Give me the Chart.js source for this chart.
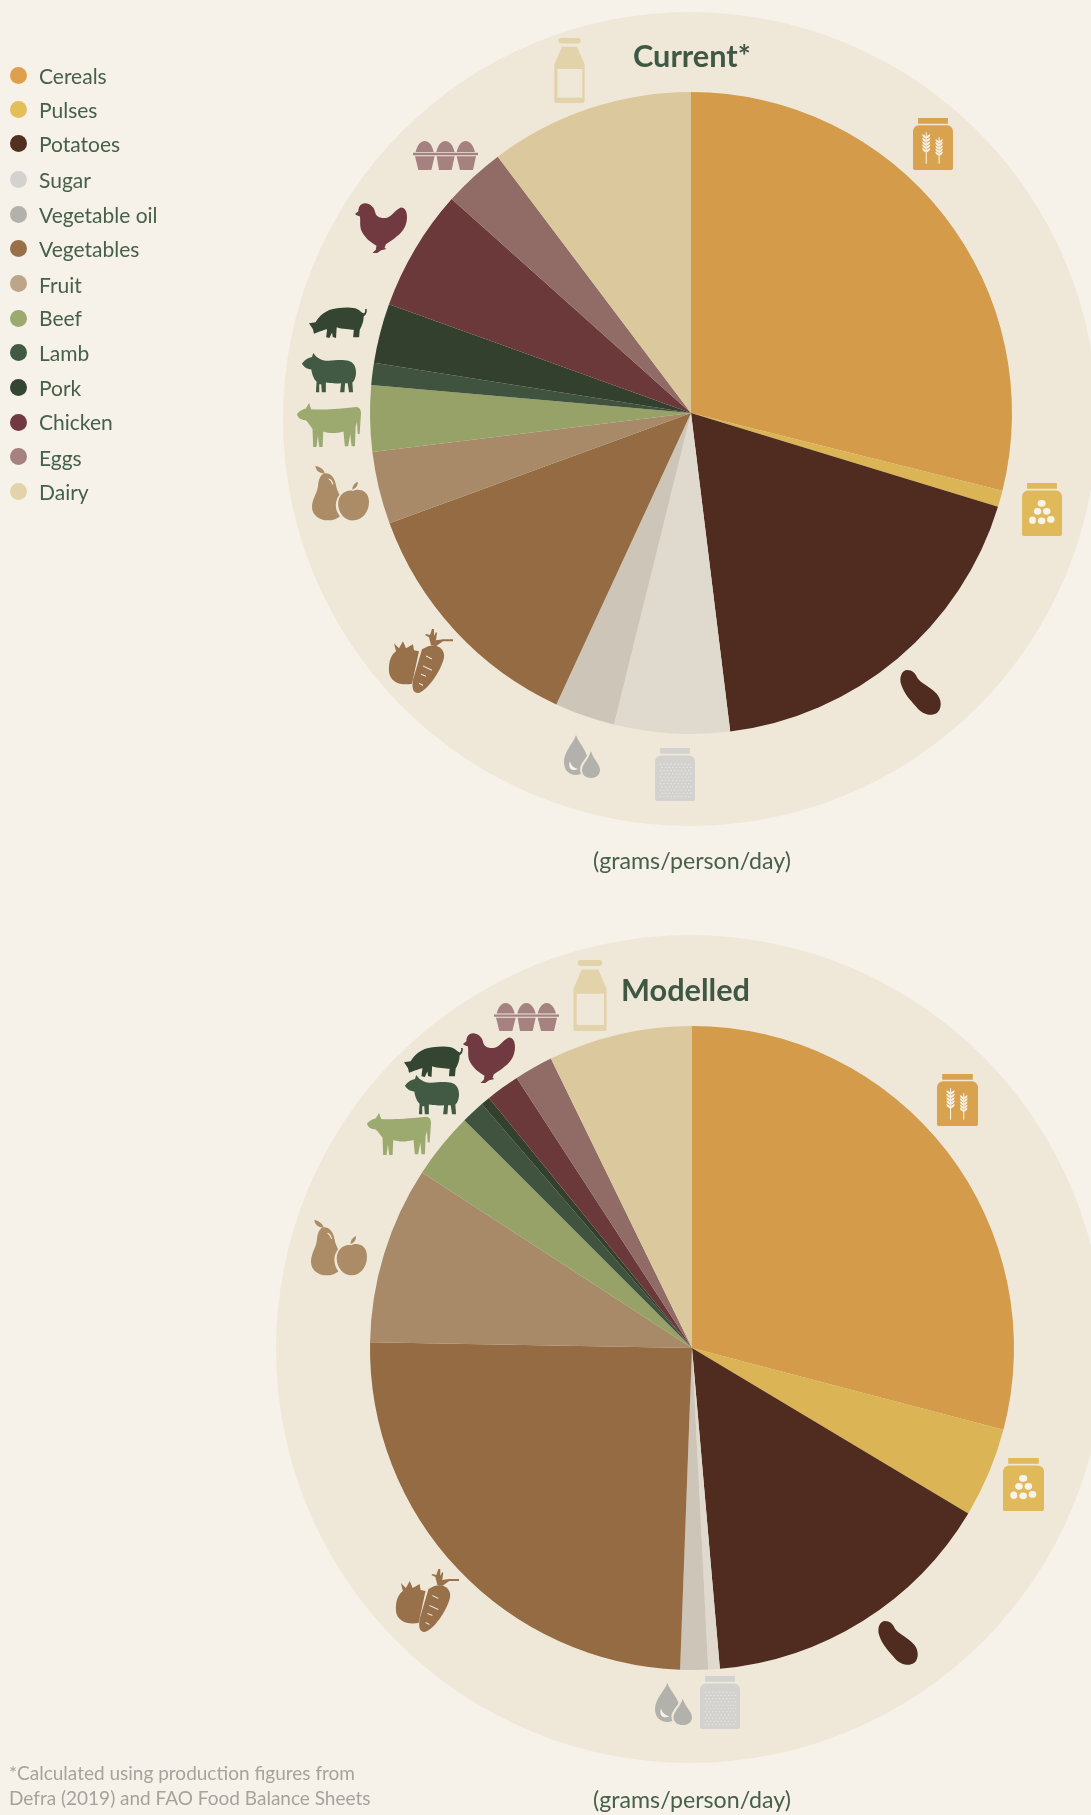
<!DOCTYPE html>
<html>
<head>
<meta charset="utf-8">
<title>Current and modelled food supply</title>
<script src="https://cdn.jsdelivr.net/npm/chart.js@4"></script>
<style>
    html, body { margin: 0; padding: 0; background: #f6f2ea; }
    #page { position: relative; width: 1091px; height: 1815px; overflow: hidden; font-family: "Lato", sans-serif; color: #46604b; }
    canvas { position: absolute; left: 0; }
    .txt { position: absolute; white-space: nowrap; }
    .chartTitle { font-weight: 700; font-size: 30.7px; color: #3f5844; line-height: 34px; }
    .unit { font-size: 23.2px; width: 300px; text-align: center; line-height: 26px; }
    .dot { position: absolute; left: 10px; width: 17px; height: 17px; border-radius: 50%; }
    .legendText { font-size: 21px; left: 39px; line-height: 24px; }
    .note { left: 9px; font-size: 19px; color: #a4a39c; line-height: 24px; }
</style>
</head>
<body>
<div id="page">
    <canvas id="currentChart" width="1091" height="880" style="top:0"></canvas>
    <canvas id="modelledChart" width="1091" height="935" style="top:880px"></canvas>
    <div class="txt chartTitle" style="left:633px;top:39px">Current*</div>
    <div class="txt chartTitle" style="left:621px;top:973px">Modelled</div>
    <div class="txt unit" style="left:542px;top:847px">(grams/person/day)</div>
    <div class="txt unit" style="left:542px;top:1786px">(grams/person/day)</div>
    <div class="txt note" style="top:1761px">*Calculated using production figures from</div>
    <div class="txt note" style="top:1786px">Defra (2019) and FAO Food Balance Sheets</div>
</div>
<script>
// share of the daily total (percent)
const categories = ["Cereals", "Pulses", "Potatoes", "Sugar", "Vegetable oil", "Vegetables", "Fruit", "Beef", "Lamb", "Pork", "Chicken", "Eggs", "Dairy"];
const currentValues = [28.89, 0.83, 18.33, 5.81, 3.03, 12.53, 3.64, 3.33, 1.11, 3.0, 6.11, 3.11, 10.28];
const modelledValues = [29.08, 4.5, 15.03, 0.58, 1.39, 24.69, 8.89, 3.33, 1.17, 0.47, 1.69, 1.94, 7.22];

const sliceColors = ["#d39b4a", "#dab455", "#4f2b20", "#e0dace", "#ccc5b8", "#946b42", "#a88a68", "#97a268", "#3f533e", "#33402d", "#6c393a", "#916c67", "#dbc99d"];
const legendColors = ["#dfa04d", "#e3bf5a", "#51301f", "#d4d2ce", "#b3b1ac", "#98714a", "#bca589", "#9caa6f", "#425a44", "#344531", "#703a40", "#a58180", "#e2d3ab"];
const legendRows = [75, 109, 143, 179, 214, 248, 283, 318, 352, 387, 422, 456, 491];
const legendTextRows = [77, 111, 145, 181, 216, 250, 286, 319, 354, 389, 423, 459, 493];

const ringColor = "#efe8d8";
const lightColor = "#f8f4ec";

// legend
const page = document.getElementById("page");
categories.forEach((name, i) => {
    let dot = document.createElement("div");
    dot.className = "dot";
    dot.style.top = (legendRows[i] - 8.5) + "px";
    dot.style.background = legendColors[i];
    page.appendChild(dot);
    let label = document.createElement("div");
    label.className = "txt legendText";
    label.style.top = (legendTextRows[i] - 13) + "px";
    label.textContent = name;
    page.appendChild(label);
});

// small helpers for the repeated bits inside the jars
function wheat(x, top, bottom, n, size) {
    let d = `M${x - 1.5} ${top}h3V${bottom}h-3Z`;
    for (let i = 0; i < n; i++) {
        let y = top + 8 + i * size * 0.95;
        d += `M${x - 1} ${y + size}C${x - size} ${y + size * 0.7} ${x - size * 1.1} ${y} ${x - size * 1.1} ${y - 2}C${x - 3} ${y} ${x - 1} ${y + size * 0.4} ${x - 1} ${y + size}Z`;
        d += `M${x + 1} ${y + size}C${x + size} ${y + size * 0.7} ${x + size * 1.1} ${y} ${x + size * 1.1} ${y - 2}C${x + 3} ${y} ${x + 1} ${y + size * 0.4} ${x + 1} ${y + size}Z`;
    }
    return d;
}
function bean(x, y, rx, ry) {
    return `M${x - rx} ${y}a${rx} ${ry} 0 1 0 ${rx * 2} 0a${rx} ${ry} 0 1 0 ${-rx * 2} 0Z`;
}
function sugarDots() {
    let d = "";
    for (let r = 0; r < 11; r++) {
        for (let c = 0; c < 9; c++) {
            d += bean(16 + c * 10.5 + (r % 2 ? 5 : 0), 48 + r * 9.6, 2, 2);
        }
    }
    return d;
}

const jarBody = "M15 0H103V17H15ZM18 22H100a18 18 0 0 1 18 18V152a5 5 0 0 1-5 5H5a5 5 0 0 1-5-5V40a18 18 0 0 1 18-18Z";

// icon outlines, each in its own little box [w, h, layers]
// a layer colour of null means the colour the icon was placed with
const icons = {
    jarCereal: [118, 157, [
        { d: jarBody },
        { d: wheat(39, 43, 138, 5, 11) + wheat(77, 58, 138, 5, 10), color: lightColor }
    ]],
    jarPulse: [118, 157, [
        { d: jarBody },
        { d: bean(58, 60, 12, 10) + bean(46, 84, 11, 10) + bean(73, 84, 11, 10) + bean(31, 110, 10, 11) + bean(58, 112, 11, 10) + bean(85, 108, 11, 10), color: lightColor }
    ]],
    jarSugar: [118, 157, [
        { d: jarBody },
        { d: sugarDots(), color: "#ece8de" }
    ]],
    milk: [92, 193, [
        { d: "M21 0H71a5 5 0 0 1 0 16H21a5 5 0 0 1 0-16ZM24 26H68L91 78V186a7 7 0 0 1-7 7H8a7 7 0 0 1-7-7V78Z" },
        { d: "M10 92H84V177H10Z", color: ringColor }
    ]],
    eggs: [195, 88, [
        { d: "M8 33C14 10 24 0 35 0S57 10 62 33ZM70 33C76 10 86 0 97 0S119 10 125 33ZM131 33C137 10 147 0 158 0S180 10 186 33Z" },
        { d: "M0 36H195V43H0ZM6 46H65L55 88H16ZM71 46H125L116 88H78ZM131 46H189L180 88H141Z" }
    ]],
    chicken: [155, 150, [
        { d: "M0 33L10 25C10 8 20 0 32 1C48 3 58 15 60 28C63 42 78 48 95 44C110 40 118 22 135 14C148 12 155 25 155 42C155 65 145 85 125 100C112 112 100 118 92 124L88 135L94 138L78 142L66 150L52 150L62 140L64 128C45 118 30 105 20 85C12 68 18 52 14 40C10 38 4 38 0 33Z" }
    ]],
    pig: [176, 95, [
        { d: "M0 50L20 47C30 28 50 8 85 4C105 1 125 0 140 4C150 6 160 18 166 20C170 18 172 12 170 6L175 6C177 16 172 26 166 28C166 45 160 58 154 70L152 93L134 93L136 70C125 68 100 68 84 62L82 95L72 92L70 78L62 95L52 93L55 68C45 70 35 74 25 78L15 82L12 68Z" }
    ]],
    sheep: [163, 122, [
        { d: "M0 32C8 20 20 14 30 12L34 0L42 10C52 18 60 24 80 24C100 22 125 20 140 24C155 28 163 42 163 58C163 75 158 85 152 90L154 120L142 120L138 92L130 92L128 120L115 120L118 92C100 94 85 92 72 90L72 120L60 120L58 95L52 95L52 120L42 120L44 88C34 78 30 62 28 50C18 50 5 44 0 32Z" }
    ]],
    cow: [190, 127, [
        { d: "M0 32C8 22 18 18 26 16L36 0L42 18C70 20 110 18 170 12C182 10 190 16 190 30L186 90L180 88L178 55L174 70L172 125L162 125L158 90L152 125L142 125L138 82C115 88 95 88 78 82L76 127L66 127L62 95L58 127L48 127L46 75C38 65 32 55 26 50C14 50 2 44 0 32Z" }
    ]],
    fruit: [170, 168, [
        { d: "M10 0C22 2 36 10 38 22C26 24 12 16 10 0ZM38 22C55 20 68 35 72 60C75 80 92 100 95 125C95 150 75 166 48 166C22 166 0 150 0 125C0 100 15 85 18 60C20 40 25 25 38 22Z" },
        { d: bean(123, 120, 52, 52), color: ringColor },
        { d: "M122 76C135 68 170 70 170 110C170 145 145 166 125 166C100 168 78 145 78 115C78 85 105 70 122 76ZM120 72C120 60 128 52 136 48C138 58 132 68 120 72Z" },
        { d: "M50 38C58 40 62 48 64 56L61 57C59 49 55 43 50 41Z", color: lightColor }
    ]],
    veg: [65, 63, [
        { d: "M1 42C0 30 5 24 8 22L6 14L11 19L15 12L18 19L25 15L26 21L31 22L24 54C12 56 2 52 1 42Z" },
        { d: "M40 17C50 14 57 20 56 28C53 42 38 62 30 63C24 63 24 56 25 50L34 20Z" },
        { d: "M43 16L41 8L37 6L38 5L42 6L44 0L46 0L46 7L48 3L49 4L48 11L55 10L65 10L65 12L55 12L48 17Z" },
        { d: "M38 26L44 29L44 30L38 27ZM35 36L44 40L44 41L35 37ZM33 44L38 46L38 47L33 45ZM31 53L35 55L35 56L31 54Z", color: lightColor }
    ]],
    oil: [36, 43, [
        { d: "M12 0C15 9 24 16 24 27C24 35 19 40 12 40C5 40 0 35 0 27C0 16 9 9 12 0Z" },
        { d: "M27 13C30 22 38 28 38 34C38 41 33 45 27 45C21 45 16 41 16 34C16 28 24 22 27 13Z", color: ringColor },
        { d: "M27 16C29 24 36 29 36 35C36 40 32 43 27 43C22 43 18 40 18 35C18 29 25 24 27 16Z" },
        { d: "M6 26C7 31 10 33 14 34C11 36 7 35 6 33C5 31 5 28 6 26Z", color: lightColor }
    ]],
    potato: [40, 45, [
        { d: "M7 0C12 0 15 3 17 8C20 13 30 17 36 24C41 30 41 39 36 43C30 47 21 44 16 37C10 30 4 24 1 14C-1 7 2 0 7 0Z" }
    ]]
};

// where the icons sit on the page: name, x, y, w, h, colour
const currentIcons = [
    ["milk", 554, 38, 31, 65, "#e2d3ab"],
    ["eggs", 413, 141, 65, 29, "#a58180"],
    ["chicken", 355, 203, 52, 50, "#703a40"],
    ["pig", 309, 307, 58, 31, "#344531"],
    ["sheep", 302, 353, 54, 40, "#425a44"],
    ["cow", 297, 403, 64, 44, "#9caa6f"],
    ["fruit", 312, 466, 57, 55, "#ab8c66"],
    ["veg", 388, 629, 65, 64, "#98714a"],
    ["oil", 564, 735, 36, 43, "#b3b1ac"],
    ["jarSugar", 655, 748, 40, 53, "#d4d2ce"],
    ["potato", 900, 670, 41, 45, "#4f2b20"],
    ["jarPulse", 1022, 483, 40, 53, "#e0b95a"],
    ["jarCereal", 913, 118, 40, 52, "#d9a24e"]
];
const modelledIcons = [
    ["milk", 573, 960, 34, 71, "#e2d3ab"],
    ["eggs", 494, 1003, 65, 28, "#a58180"],
    ["chicken", 463, 1033, 52, 50, "#703a40"],
    ["pig", 404, 1046, 59, 31, "#344531"],
    ["sheep", 405, 1075, 54, 40, "#425a44"],
    ["cow", 367, 1113, 64, 42, "#9caa6f"],
    ["fruit", 311, 1220, 56, 56, "#ab8c66"],
    ["veg", 395, 1569, 64, 63, "#98714a"],
    ["oil", 655, 1683, 37, 42, "#b3b1ac"],
    ["jarSugar", 700, 1676, 40, 53, "#d4d2ce"],
    ["potato", 878, 1621, 40, 44, "#4f2b20"],
    ["jarPulse", 1003, 1458, 41, 53, "#e0b95a"],
    ["jarCereal", 937, 1074, 41, 52, "#d9a24e"]
];

// draws the pale ring behind the pie and the food icons around it
const ringAndIcons = {
    id: "ringAndIcons",
    beforeDraw(chart, args, opts) {
        let ctx = chart.ctx;
        ctx.save();
        ctx.fillStyle = ringColor;
        ctx.beginPath();
        ctx.arc(opts.ringX, opts.ringY - opts.top, opts.ringR, 0, Math.PI * 2);
        ctx.fill();
        ctx.restore();
    },
    afterDraw(chart, args, opts) {
        let ctx = chart.ctx;
        opts.places.forEach(([name, x, y, w, h, color]) => {
            let [bw, bh, layers] = icons[name];
            ctx.save();
            ctx.translate(x, y - opts.top);
            ctx.scale(w / bw, h / bh);
            layers.forEach(layer => {
                ctx.fillStyle = layer.color || color;
                ctx.fill(new Path2D(layer.d));
            });
            ctx.restore();
        });
    }
};

function makePie(id, values, top, cx, cy, r, ringX, ringY, ringR, places) {
    let canvas = document.getElementById(id);
    new Chart(canvas.getContext("2d"), {
        type: "pie",
        data: {
            labels: categories,
            datasets: [{
                data: values,
                backgroundColor: sliceColors,
                borderWidth: 0
            }]
        },
        options: {
            responsive: false,
            animation: false,
            layout: {
                padding: {
                    left: cx - r,
                    right: canvas.width - cx - r,
                    top: cy - top - r,
                    bottom: canvas.height - (cy - top) - r
                }
            },
            plugins: {
                legend: { display: false },
                tooltip: { enabled: false },
                ringAndIcons: { top, ringX, ringY, ringR, places }
            }
        },
        plugins: [ringAndIcons]
    });
}

makePie("currentChart", currentValues, 0, 691, 413, 321, 690, 419, 407, currentIcons);
makePie("modelledChart", modelledValues, 880, 692, 1348, 322, 690, 1349, 414, modelledIcons);
</script>
</body>
</html>
